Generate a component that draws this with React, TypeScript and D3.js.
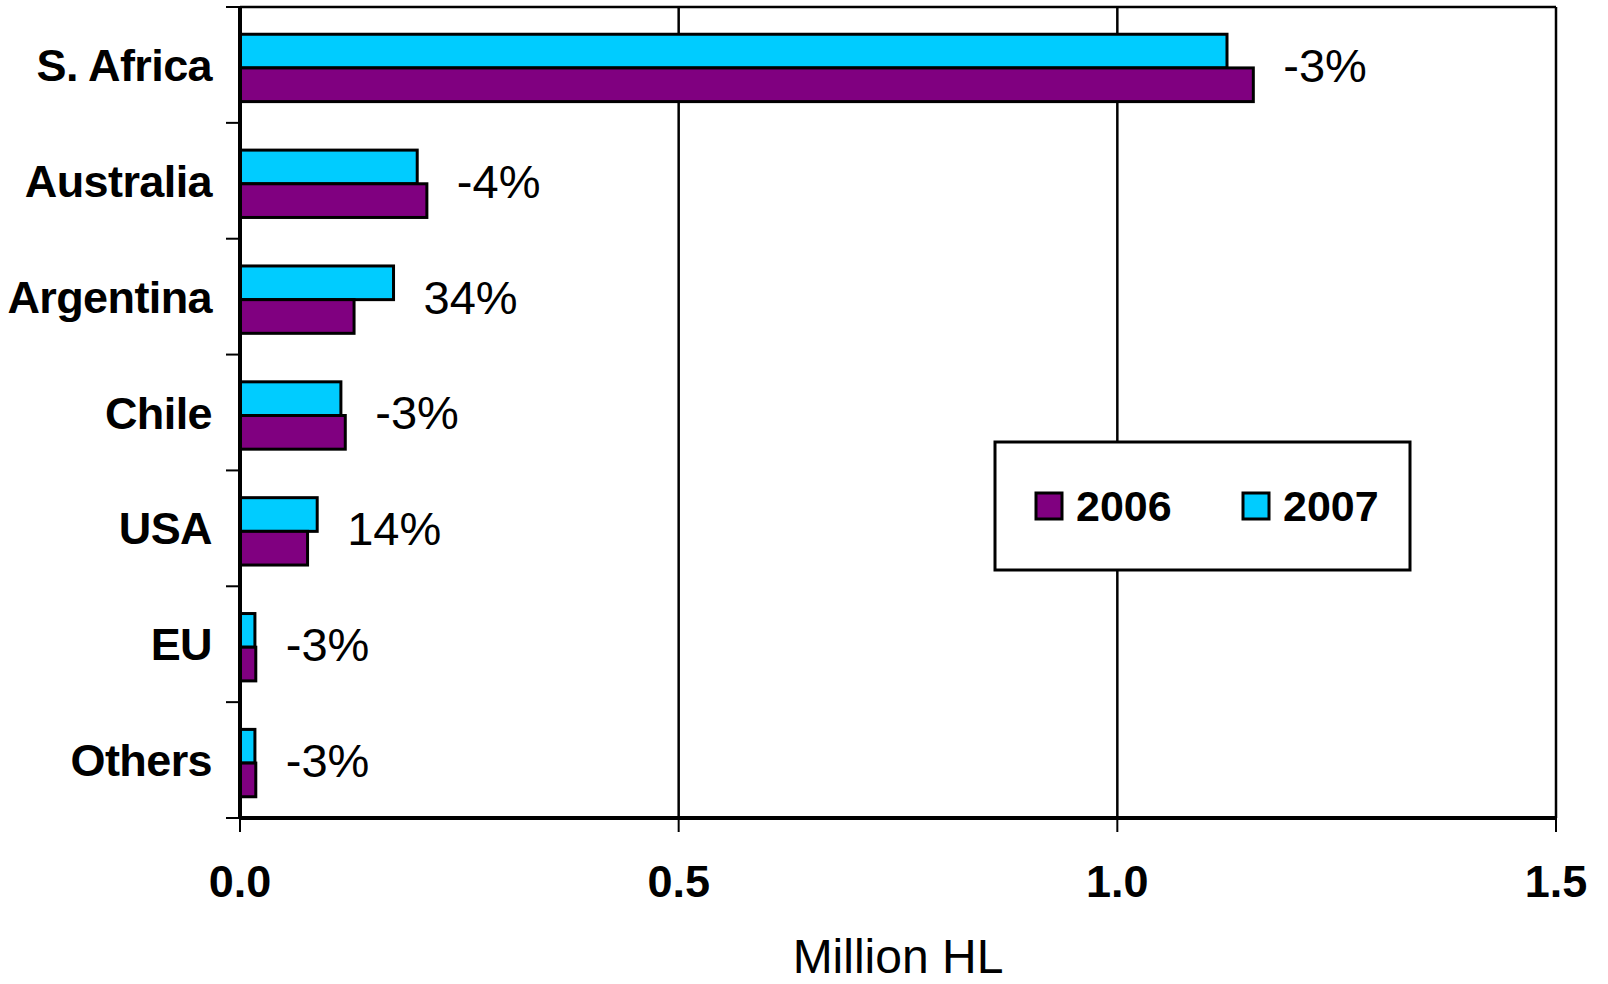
import React, { useEffect, useRef } from 'react';
import * as d3 from 'd3';

// Chart data
const categories = ['S. Africa', 'Australia', 'Argentina', 'Chile', 'USA', 'EU', 'Others'];
const years = ['2007', '2006'];
const values2006 = [1.155, 0.213, 0.13, 0.12, 0.077, 0.018, 0.018];
const values2007 = [1.125, 0.202, 0.175, 0.115, 0.088, 0.017, 0.017];
const changeLabels = ['-3%', '-4%', '34%', '-3%', '14%', '-3%', '-3%'];
const xTicks = [0, 0.5, 1.0, 1.5];

const colors: { [key: string]: string } = {
  '2006': '#800080',
  '2007': '#00ccff',
};

const FONT = '"Liberation Sans", Arial, Helvetica, sans-serif';

const App: React.FC = () => {
  const ref = useRef<SVGSVGElement>(null);

  useEffect(() => {
    if (!ref.current) return;
    const svg = d3.select(ref.current);
    svg.selectAll('*').remove();

    const margin = { top: 7, right: 52, bottom: 166, left: 240 };
    const W = 1608;
    const H = 984;
    const width = W - margin.left - margin.right;
    const height = H - margin.top - margin.bottom;

    const g = svg
      .append('g')
      .attr('transform', `translate(${margin.left},${margin.top})`);

    // scales
    const x = d3.scaleLinear().domain([0, 1.5]).range([0, width]);
    const y0 = d3.scaleBand().domain(categories).range([0, height]).padding(0);
    const y1 = d3
      .scaleBand()
      .domain(years)
      .range([3, y0.bandwidth() + 3])
      .paddingInner(0)
      .paddingOuter(0.72);

    // top border of plot area
    g.append('line')
      .attr('x1', 0)
      .attr('x2', width)
      .attr('y1', 0)
      .attr('y2', 0)
      .attr('stroke', '#000')
      .attr('stroke-width', 2.5);

    // vertical gridlines
    g.selectAll('.grid')
      .data(xTicks.filter((t) => t > 0))
      .enter()
      .append('line')
      .attr('x1', (d) => x(d))
      .attr('x2', (d) => x(d))
      .attr('y1', 0)
      .attr('y2', height)
      .attr('stroke', '#000')
      .attr('stroke-width', 2.5);

    // bars
    const rows = categories.map((c, i) => ({
      cat: c,
      label: changeLabels[i],
      bars: [
        { year: '2007', value: values2007[i] },
        { year: '2006', value: values2006[i] },
      ],
    }));

    const groups = g
      .selectAll('.cat')
      .data(rows)
      .enter()
      .append('g')
      .attr('transform', (d) => `translate(0,${y0(d.cat)})`);

    groups
      .selectAll('rect')
      .data((d) => d.bars)
      .enter()
      .append('rect')
      .attr('x', 0)
      .attr('y', (d) => y1(d.year)!)
      .attr('width', (d) => x(d.value))
      .attr('height', y1.bandwidth())
      .attr('fill', (d) => colors[d.year])
      .attr('stroke', '#000')
      .attr('stroke-width', 3);

    // change labels
    groups
      .append('text')
      .attr('x', (d) => x(d3.max(d.bars, (b) => b.value)!) + 30)
      .attr('y', y0.bandwidth() / 2 + 17)
      .attr('font-family', FONT)
      .attr('font-size', 47)
      .attr('fill', '#000')
      .text((d) => d.label);

    // y axis
    const tickYs = d3.range(categories.length + 1).map((i) => i * y0.step());
    g.selectAll('.ytick')
      .data(tickYs)
      .enter()
      .append('line')
      .attr('x1', -14)
      .attr('x2', 0)
      .attr('y1', (d) => d)
      .attr('y2', (d) => d)
      .attr('stroke', '#000')
      .attr('stroke-width', 2);

    g.selectAll('.ylabel')
      .data(categories)
      .enter()
      .append('text')
      .attr('x', -28)
      .attr('y', (d) => y0(d)! + y0.bandwidth() / 2 + 16)
      .attr('text-anchor', 'end')
      .attr('font-family', FONT)
      .attr('font-weight', 'bold')
      .attr('font-size', 45)
      .attr('letter-spacing', -0.6)
      .text((d) => d);

    g.append('line')
      .attr('x1', 0)
      .attr('x2', 0)
      .attr('y1', 0)
      .attr('y2', height)
      .attr('stroke', '#000')
      .attr('stroke-width', 4);

    // x axis
    g.selectAll('.xtick')
      .data(xTicks)
      .enter()
      .append('line')
      .attr('x1', (d) => x(d))
      .attr('x2', (d) => x(d))
      .attr('y1', height)
      .attr('y2', height + 14)
      .attr('stroke', '#000')
      .attr('stroke-width', 2);

    g.append('line')
      .attr('x1', 0)
      .attr('x2', width)
      .attr('y1', height)
      .attr('y2', height)
      .attr('stroke', '#000')
      .attr('stroke-width', 4);

    g.selectAll('.xlabel')
      .data(xTicks)
      .enter()
      .append('text')
      .attr('x', (d) => x(d))
      .attr('y', height + 79)
      .attr('text-anchor', 'middle')
      .attr('font-family', FONT)
      .attr('font-weight', 'bold')
      .attr('font-size', 45)
      .text((d) => d3.format('.1f')(d));

    g.append('text')
      .attr('x', width / 2)
      .attr('y', height + 155)
      .attr('text-anchor', 'middle')
      .attr('font-family', FONT)
      .attr('font-size', 48)
      .text('Million HL');

    // legend
    const legend = svg.append('g').attr('transform', 'translate(995,442)');
    legend
      .append('rect')
      .attr('width', 415)
      .attr('height', 128)
      .attr('fill', '#fff')
      .attr('stroke', '#000')
      .attr('stroke-width', 3);

    const legendItems = ['2006', '2007'];
    const li = legend
      .selectAll('.li')
      .data(legendItems)
      .enter()
      .append('g')
      .attr('transform', (d, i) => `translate(${41 + i * 207},51)`);
    li.append('rect')
      .attr('width', 26)
      .attr('height', 26)
      .attr('fill', (d) => colors[d])
      .attr('stroke', '#000')
      .attr('stroke-width', 3);
    li.append('text')
      .attr('x', 40)
      .attr('y', 28)
      .attr('font-family', FONT)
      .attr('font-weight', 'bold')
      .attr('font-size', 43)
      .text((d) => d);
  }, []);

  return (
    <svg
      ref={ref}
      width={1608}
      height={984}
      style={{ position: 'absolute', left: 0, top: 0, background: '#fff' }}
    />
  );
};

export default App;
